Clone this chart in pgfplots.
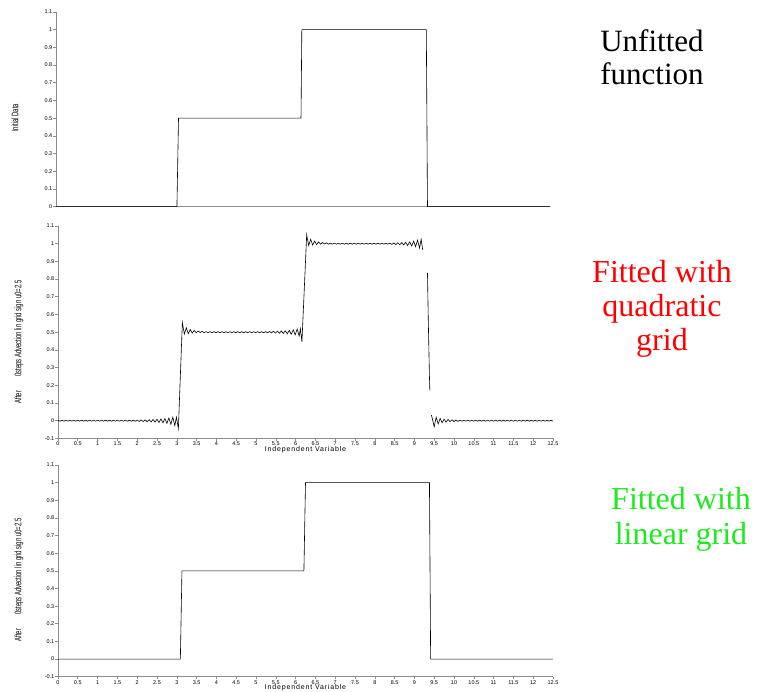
\documentclass[border=0pt]{standalone}
\usepackage{pgfplots}
\pgfplotsset{compat=1.18}
\usepackage{fontspec}
\setmainfont{Liberation Serif}
\newfontfamily\ticksans{Liberation Sans}
\newfontfamily\condsans[FakeStretch=0.62]{Liberation Sans}
\newfontfamily\spacedsans[LetterSpace=12]{Liberation Sans}
\definecolor{axgray}{gray}{0.55}
\definecolor{fitgreen}{RGB}{30,235,30}
\pgfplotsset{
  myax/.style={
    scale only axis,
    xmin=0, xmax=12.5,
    axis lines*=left,
    axis line style={axgray, line width=0.9pt},
    tick style={axgray, line width=0.6pt},
    tick align=outside,
    major tick length=2.5pt,
    /pgf/number format/assume math mode=true,
    ticklabel style={font=\fontsize{5.5}{6}\ticksans, inner sep=1pt},
    xtick={0,0.5,1,1.5,2,2.5,3,3.5,4,4.5,5,5.5,6,6.5,7,7.5,8,8.5,9,9.5,10,10.5,11,11.5,12,12.5},
    xticklabel style={/pgf/number format/fixed},
    yticklabel style={/pgf/number format/fixed},
    cycle list={{black, line width=0.6pt, mark=none}},
  }
}
\begin{document}
\begin{tikzpicture}
\path[use as bounding box] (0pt,0pt) rectangle (761pt,692pt);

% ---------- Panel 1 ----------
\begin{axis}[myax,
  at={(56pt,485.3pt)}, anchor=south west,
  width=494pt, height=194.7pt,
  ymin=0, ymax=1.1,
  ytick={0,0.1,0.2,0.3,0.4,0.5,0.6,0.7,0.8,0.9,1,1.1},
  xtick=\empty,
  ylabel={\fontsize{9.5}{10}\condsans Initial Data},
  ylabel style={at={(axis description cs:-0.083,0.456)}, anchor=center},
]
\addplot[black, line width=0.6pt, mark=none] coordinates {(0,0)(3.06,0)(3.1,0.5)(6.2,0.5)(6.22,1)(9.37,1)(9.4,0)(12.5,0)};
\end{axis}

% ---------- Panel 2 ----------
\begin{axis}[myax,
  at={(58pt,253.6pt)}, anchor=south west,
  width=495pt, height=212.4pt,
  ymin=-0.1, ymax=1.1,
  ytick={-0.1,0,0.1,0.2,0.3,0.4,0.5,0.6,0.7,0.8,0.9,1,1.1},
  ylabel={\fontsize{9.5}{10}\condsans After\hspace{14pt}0steps Advection lin grid sign u0=2.5},
  ylabel style={at={(axis description cs:-0.079,0.454)}, anchor=center},
  xlabel={\fontsize{7}{8}\spacedsans Independent Variable},
  xlabel style={at={(axis description cs:0.5,0)}, anchor=center, yshift=-11pt},
]
\addplot[black, line width=0.6pt, mark=none] coordinates {
(0,0.003)(0.05,-0.003)(0.1,0.003)(0.15,-0.003)(0.2,0.003)(0.25,-0.003)(0.3,0.003)(0.35,-0.003)(0.4,0.003)(0.45,-0.003)
(0.5,0.003)(0.55,-0.003)(0.6,0.003)(0.65,-0.003)(0.7,0.003)(0.75,-0.003)(0.8,0.003)(0.85,-0.003)(0.9,0.003)(0.95,-0.003)
(1,0.003)(1.05,-0.003)(1.1,0.003)(1.15,-0.003)(1.2,0.003)(1.25,-0.003)(1.3,0.003)(1.35,-0.003)(1.4,0.003)(1.45,-0.003)
(1.5,0.003)(1.55,-0.003)(1.6,0.003)(1.65,-0.003)(1.7,0.003)(1.75,-0.003)(1.8,0.003)(1.85,-0.003)(1.9,0.003)(1.95,-0.003)(2,0.003)
(2.05,-0.004)(2.1,0.004)(2.15,-0.005)(2.2,0.005)(2.25,-0.006)(2.3,0.006)(2.35,-0.007)(2.4,0.007)(2.45,-0.008)(2.5,0.008)
(2.55,-0.01)(2.6,0.01)(2.65,-0.012)(2.7,0.012)(2.75,-0.015)(2.8,0.015)(2.85,-0.02)(2.9,0.02)(2.95,-0.028)(2.99,0.02)(3.04,-0.045)(3.14,0.555)
(3.19,0.49)(3.24,0.525)(3.29,0.492)(3.34,0.515)(3.39,0.495)(3.44,0.51)(3.49,0.497)(3.54,0.507)(3.59,0.498)(3.64,0.505)
(3.69,0.497)(3.74,0.503)(3.79,0.497)(3.84,0.503)(3.89,0.497)(3.94,0.503)(3.99,0.497)(4.04,0.503)(4.09,0.497)(4.14,0.503)
(4.19,0.497)(4.24,0.503)(4.29,0.497)(4.34,0.503)(4.39,0.497)(4.44,0.503)(4.49,0.497)(4.54,0.503)(4.59,0.497)(4.64,0.503)
(4.69,0.497)(4.74,0.503)(4.79,0.497)(4.84,0.503)(4.89,0.497)(4.94,0.503)(4.99,0.497)(5.04,0.503)(5.09,0.497)(5.14,0.503)
(5.19,0.497)(5.24,0.503)(5.29,0.497)
(5.34,0.504)(5.39,0.496)(5.44,0.505)(5.49,0.495)(5.54,0.506)(5.59,0.494)(5.64,0.507)(5.69,0.493)(5.74,0.508)(5.79,0.491)
(5.84,0.51)(5.89,0.488)(5.94,0.513)(5.99,0.485)(6.04,0.518)(6.09,0.478)(6.12,0.52)(6.16,0.445)(6.28,1.05)
(6.33,0.99)(6.38,1.025)(6.43,0.992)(6.48,1.015)(6.53,0.995)(6.58,1.01)(6.63,0.997)(6.68,1.007)(6.73,0.998)(6.78,1.005)
(6.83,0.997)(6.88,1.003)(6.93,0.997)(6.98,1.003)(7.03,0.997)(7.08,1.003)(7.13,0.997)(7.18,1.003)(7.23,0.997)(7.28,1.003)
(7.33,0.997)(7.38,1.003)(7.43,0.997)(7.48,1.003)(7.53,0.997)(7.58,1.003)(7.63,0.997)(7.68,1.003)(7.73,0.997)(7.78,1.003)
(7.83,0.997)(7.88,1.003)(7.93,0.997)(7.98,1.003)(8.03,0.997)(8.08,1.003)(8.13,0.997)(8.18,1.003)(8.23,0.997)(8.28,1.003)
(8.33,0.997)(8.38,1.003)
(8.43,0.996)(8.48,1.004)(8.53,0.995)(8.58,1.005)(8.63,0.994)(8.68,1.006)(8.73,0.993)(8.78,1.008)(8.83,0.99)(8.88,1.01)
(8.93,0.987)(8.98,1.014)(9.03,0.983)(9.08,1.02)(9.13,0.975)(9.17,1.025)(9.21,0.965)
};
\addplot[black, line width=0.6pt, mark=none] coordinates {(9.33,0.835)(9.35,0.575)(9.38,0.25)(9.39,0.17)};
\addplot[black, line width=0.6pt, mark=none] coordinates {
(9.43,0.032)(9.5,-0.034)(9.55,0.02)(9.6,-0.018)(9.65,0.013)(9.7,-0.012)(9.75,0.009)(9.8,-0.008)(9.85,0.007)(9.9,-0.006)
(9.95,0.005)(10,-0.005)(10.05,0.004)(10.1,-0.004)
(10.15,0.003)(10.2,-0.003)(10.25,0.003)(10.3,-0.003)(10.35,0.003)(10.4,-0.003)(10.45,0.003)(10.5,-0.003)(10.55,0.003)(10.6,-0.003)
(10.65,0.003)(10.7,-0.003)(10.75,0.003)(10.8,-0.003)(10.85,0.003)(10.9,-0.003)(10.95,0.003)(11,-0.003)(11.05,0.003)(11.1,-0.003)
(11.15,0.003)(11.2,-0.003)(11.25,0.003)(11.3,-0.003)(11.35,0.003)(11.4,-0.003)(11.45,0.003)(11.5,-0.003)(11.55,0.003)(11.6,-0.003)
(11.65,0.003)(11.7,-0.003)(11.75,0.003)(11.8,-0.003)(11.85,0.003)(11.9,-0.003)(11.95,0.003)(12,-0.003)(12.05,0.003)(12.1,-0.003)
(12.15,0.003)(12.2,-0.003)(12.25,0.003)(12.3,-0.003)(12.35,0.003)(12.4,-0.003)(12.45,0.003)(12.5,-0.003)
};
\end{axis}

% ---------- Panel 3 ----------
\begin{axis}[myax,
  at={(58pt,15.3pt)}, anchor=south west,
  width=495pt, height=211.7pt,
  ymin=-0.1, ymax=1.1,
  ytick={-0.1,0,0.1,0.2,0.3,0.4,0.5,0.6,0.7,0.8,0.9,1,1.1},
  ylabel={\fontsize{9.5}{10}\condsans After\hspace{14pt}0steps Advection lin grid sign u0=2.5},
  ylabel style={at={(axis description cs:-0.079,0.457)}, anchor=center},
  xlabel={\fontsize{7}{8}\spacedsans Independent Variable},
  xlabel style={at={(axis description cs:0.5,0)}, anchor=center, yshift=-11.3pt},
]
\addplot[black, line width=0.6pt, mark=none] coordinates {(0,0)(3.09,0)(3.13,0.5)(6.21,0.5)(6.25,1)(9.38,1)(9.41,0)(12.5,0)};
\end{axis}

% ---------- Annotations ----------
\node[align=center, font=\fontsize{31}{33}\selectfont, text=black] at (652pt,635pt) {Unfitted\\function};
\node[align=center, font=\fontsize{32}{34}\selectfont, text=red] at (662pt,383pt) {Fitted with\\quadratic\\grid};
\node[align=center, font=\fontsize{32}{35}\selectfont, text=fitgreen] at (681pt,173pt) {Fitted with\\linear grid};
\end{tikzpicture}
\end{document}
